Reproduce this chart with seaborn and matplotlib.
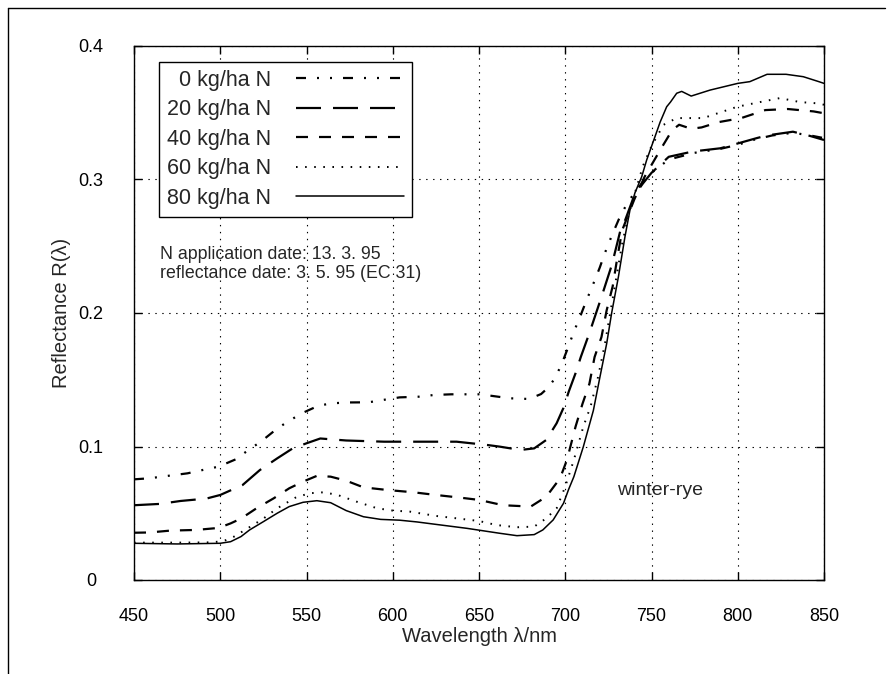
import matplotlib
matplotlib.use("Agg")
import matplotlib.pyplot as plt
from matplotlib.lines import Line2D
import seaborn as sns
import pandas as pd

# ---- data ----
labels = ["0 kg/ha N", "20 kg/ha N", "40 kg/ha N", "60 kg/ha N", "80 kg/ha N"]

wl_0 = [450, 459, 469, 481, 488, 499, 509, 515, 524, 532, 539, 548, 557, 565, 575, 586, 594,
        604, 615, 624, 634, 645, 650, 657, 668, 679, 686, 690, 694, 698, 701, 705, 709, 712,
        716, 720, 723, 727, 731, 735, 740, 745, 750, 760, 775, 790, 800, 810, 820, 832, 842,
        850]
r_0 = [0.0754, 0.0762, 0.0779, 0.0799, 0.0819, 0.0849, 0.0904, 0.0961, 0.1041, 0.1124,
       0.1186, 0.1253, 0.1306, 0.1324, 0.1330, 0.1331, 0.1348, 0.1368, 0.1373, 0.1386, 0.1391,
       0.1391, 0.1391, 0.1380, 0.1361, 0.1356, 0.1393, 0.1440, 0.1510, 0.1620, 0.1720, 0.1860,
       0.1985, 0.2085, 0.2210, 0.2340, 0.2450, 0.2580, 0.2700, 0.2800, 0.2900, 0.2980, 0.3050,
       0.3150, 0.3200, 0.3230, 0.3260, 0.3300, 0.3330, 0.3350, 0.3330, 0.3310]

wl_20 = [450, 465, 477, 492, 500, 504, 513, 523, 533, 542, 550, 558, 573, 595, 616, 637, 655,
         662, 674, 682, 689, 695, 699, 702, 706, 709, 714, 721, 727, 732, 734, 740, 745, 750,
         760, 774, 790, 800, 811, 817, 832, 842, 850]
r_20 = [0.0560, 0.0570, 0.0592, 0.0610, 0.0637, 0.0660, 0.0712, 0.0824, 0.0911, 0.0986,
        0.1024, 0.1060, 0.1045, 0.1036, 0.1036, 0.1036, 0.1011, 0.0999, 0.0974, 0.0986, 0.1049,
        0.1174, 0.1290, 0.1410, 0.1550, 0.1670, 0.1850, 0.2120, 0.2360, 0.2620, 0.2670, 0.2880,
        0.2970, 0.3050, 0.3170, 0.3210, 0.3234, 0.3270, 0.3310, 0.3330, 0.3358, 0.3326, 0.3296]

wl_40 = [450, 459, 471, 486, 499, 506, 512, 521, 531, 540, 548, 556, 564, 573, 583, 597, 612,
         625, 639, 650, 664, 680, 689, 697, 701, 706, 710, 714, 717, 721, 724, 727.5, 730, 733,
         740, 746, 755, 762, 766, 773, 779, 789, 802, 816, 829, 844, 850]
r_40 = [0.0354, 0.0356, 0.0370, 0.0375, 0.0390, 0.0424, 0.0460, 0.0537, 0.0612, 0.0687,
        0.0737, 0.0780, 0.0774, 0.0744, 0.0694, 0.0674, 0.0657, 0.0637, 0.0617, 0.0600, 0.0560,
        0.0550, 0.0624, 0.0762, 0.0900, 0.1150, 0.1320, 0.1470, 0.1670, 0.1820, 0.2020, 0.2200,
        0.2400, 0.2620, 0.2850, 0.3020, 0.3220, 0.3370, 0.3410, 0.3380, 0.3390, 0.3430, 0.3460,
        0.3520, 0.3528, 0.3510, 0.3496]

wl_60 = [450, 475, 495, 502, 508, 515, 525, 533, 544, 552, 560, 568, 579, 591, 600, 610, 625,
         637, 650, 660, 672, 682, 689, 695, 700, 705, 710.5, 714.7, 719, 723, 725, 729, 733,
         737, 745, 750, 757, 764.6, 770, 780, 791.6, 799.7, 812.9, 824.5, 836, 846.7, 850]
r_60 = [0.0280, 0.0280, 0.0282, 0.0292, 0.0325, 0.0380, 0.0460, 0.0537, 0.0620, 0.0650,
        0.0657, 0.0637, 0.0587, 0.0537, 0.0520, 0.0512, 0.0480, 0.0462, 0.0442, 0.0412, 0.0395,
        0.0400, 0.0462, 0.0537, 0.0700, 0.0900, 0.1150, 0.1300, 0.1520, 0.1770, 0.1920, 0.2220,
        0.2520, 0.2750, 0.3100, 0.3250, 0.3410, 0.3460, 0.3460, 0.3460, 0.3510, 0.3545, 0.3580,
        0.3610, 0.3580, 0.3570, 0.3560]

wl_80 = [450, 475, 500, 506, 512, 517, 525, 533, 540, 548, 556, 564, 573, 583, 593, 604, 614,
         623, 643, 662, 672, 682, 687, 693, 699, 702, 705, 710.5, 716.3, 720.1, 724, 726.9,
         730.8, 734.6, 737.5, 740.4, 744.3, 747.2, 752, 755, 758.8, 761, 764.6, 767.5, 773,
         784, 800, 807, 817, 828, 838, 847, 850]
r_80 = [0.0275, 0.0270, 0.0275, 0.0287, 0.0325, 0.0375, 0.0437, 0.0500, 0.0550, 0.0582,
        0.0594, 0.0579, 0.0520, 0.0474, 0.0454, 0.0448, 0.0435, 0.0420, 0.0387, 0.0350, 0.0332,
        0.0340, 0.0375, 0.0450, 0.0575, 0.0680, 0.0774, 0.0999, 0.1270, 0.1520, 0.1770, 0.2000,
        0.2270, 0.2570, 0.2770, 0.2900, 0.3020, 0.3146, 0.3320, 0.3430, 0.3545, 0.3580, 0.3646,
        0.3660, 0.3625, 0.3670, 0.3720, 0.3733, 0.3788, 0.3788, 0.3770, 0.3733, 0.3720]

x_ticks = [450, 500, 550, 600, 650, 700, 750, 800, 850]
y_ticks = [0, 0.1, 0.2, 0.3, 0.4]
y_ticklabels = ["0", "0.1", "0.2", "0.3", "0.4"]

note_text = "N application date: 13. 3. 95\nreflectance date: 3. 5. 95 (EC 31)"
crop_text = "winter-rye"

# ---- styling ----
sns.set_style("ticks")
plt.rcParams["font.family"] = ["Liberation Sans", "DejaVu Sans"]
plt.rcParams["lines.scale_dashes"] = False

px = 0.72  # points per pixel at 100 dpi
styles = [
    (0, (10 * px, 11 * px, 2 * px, 11 * px, 2 * px, 11 * px)),
    (0, (25 * px, 12 * px)),
    (0, (12 * px, 11 * px)),
    (0, (1.6 * px, 7.5 * px)),
    "-",
]
widths = [1.6, 1.6, 1.6, 1.4, 1.1]

series = [(wl_0, r_0), (wl_20, r_20), (wl_40, r_40), (wl_60, r_60), (wl_80, r_80)]

fig = plt.figure(figsize=(8.96, 6.74), dpi=100)
ax = fig.add_axes([134 / 896, 1 - 580 / 674, 690 / 896, 534 / 674])

for (wl, r), lab, ls, lw in zip(series, labels, styles, widths):
    df = pd.DataFrame({"wavelength": wl, "reflectance": r})
    sns.lineplot(data=df, x="wavelength", y="reflectance", ax=ax, color="black",
                 linestyle=ls, linewidth=lw, label=lab, estimator=None, sort=False)

ax.set_xlim(450, 850)
ax.set_ylim(0, 0.4)
ax.set_xticks(x_ticks)
ax.set_xticklabels([str(t) for t in x_ticks])
ax.set_yticks(y_ticks)
ax.set_yticklabels(y_ticklabels)
ax.tick_params(direction="in", length=6, width=1, top=True, right=True,
               labelsize=13, colors="black")
ax.tick_params(axis="x", pad=20)
ax.tick_params(axis="y", pad=31)
for t in ax.get_yticklabels():
    t.set_horizontalalignment("center")
ax.grid(True, linestyle=(0, (1, 4)), color="black", linewidth=0.8)
for s in ax.spines.values():
    s.set_linewidth(1.0)
    s.set_color("black")

ax.set_xlabel("Wavelength λ/nm", fontsize=14.5)
ax.set_ylabel("Reflectance R(λ)", fontsize=14.5)
ax.xaxis.set_label_coords(0.5, (580 - 627) / 534)
ax.yaxis.set_label_coords((71 - 134) / 690, 0.5)

leg = ax.legend(loc="upper left", bbox_to_anchor=(25 / 690, 518 / 534), borderaxespad=0,
                markerfirst=False, fontsize=15.5, handlelength=5.0, handletextpad=1.2,
                labelspacing=0.4, fancybox=False, framealpha=1, edgecolor="black",
                borderpad=0.35)
leg.get_frame().set_linewidth(1.0)

ax.text(26 / 690, (580 - 264) / 534, note_text, transform=ax.transAxes, fontsize=12.8,
        ha="left", va="center", linespacing=1.15)
ax.text(730, 0.0674, crop_text, fontsize=14, ha="left", va="center")

# outer frame of the scanned figure (top and left edges)
fig.add_artist(Line2D([8 / 896, 885 / 896], [1 - 8 / 674, 1 - 8 / 674],
                      transform=fig.transFigure, color="black", linewidth=1.0))
fig.add_artist(Line2D([8 / 896, 8 / 896], [1 - 8 / 674, 0],
                      transform=fig.transFigure, color="black", linewidth=1.0))

fig.savefig("out.png", dpi=100)
